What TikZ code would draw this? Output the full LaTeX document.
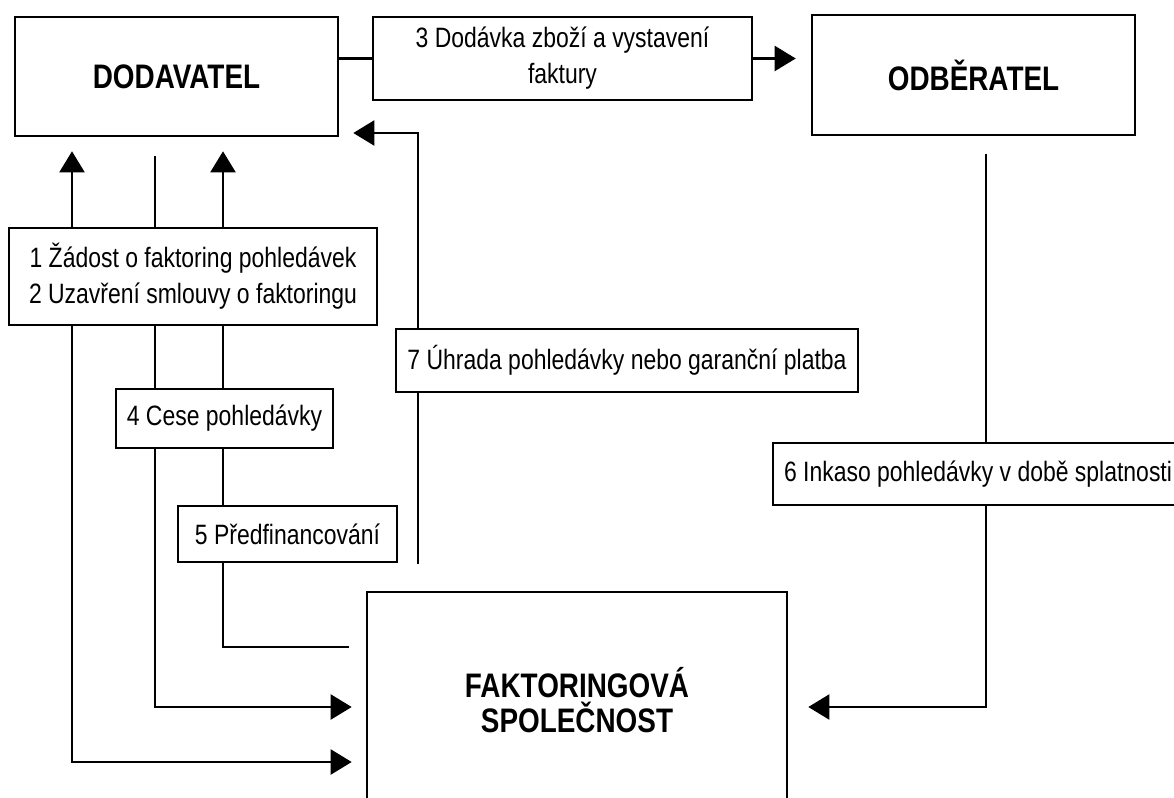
\documentclass[tikz,border=0pt]{standalone}
\usepackage{fontspec}
\setmainfont{Liberation Sans}[FakeStretch=0.82]
\usetikzlibrary{arrows.meta}
\tikzset{
  box/.style={draw, line width=2.6pt, inner sep=0pt, align=center, font=\fontsize{28}{36}\selectfont},
  title/.style={box, font=\fontsize{34}{35}\selectfont\bfseries},
  conn/.style={line width=2.2pt},
  arr/.style={conn, -{Triangle[length=21pt,width=25pt]}},
}
\begin{document}
\begin{tikzpicture}[x=1pt,y=-1pt]
\clip (0,0) rectangle (1174,797);
\fill[white] (0,0) rectangle (1174,797);
% columns and rows
\coordinate (c1) at (72,0);
\coordinate (c2) at (155,0);
\coordinate (c3) at (223,0);
\coordinate (c5) at (418,0);
\coordinate (c6) at (986,0);
\coordinate (r1) at (0,762);
\coordinate (r2) at (0,707);
\coordinate (r3) at (0,647);
\coordinate (r4) at (0,133);
% nodes
\node[title, minimum width=323pt, minimum height=119pt] (dod) at (176.5,76.5) {DODAVATEL};
\node[box, minimum width=379pt, minimum height=83pt] (b3) at (562.5,58.5) {3 Dodávka zboží a vystavení\\faktury};
\node[title, minimum width=323pt, minimum height=120pt] (odb) at (973.5,75) {ODBĚRATEL};
\node[box, minimum width=368pt, minimum height=97pt] (b1) at (193,276.5) {1 Žádost o faktoring pohledávek\\2 Uzavření smlouvy o faktoringu};
\node[box, minimum width=462pt, minimum height=63pt] (b7) at (627,360.5) {7 Úhrada pohledávky nebo garanční platba};
\node[box, minimum width=217pt, minimum height=59pt] (b4) at (224.5,418.5) {4 Cese pohledávky};
\node[box, minimum width=410pt, minimum height=62pt] (b6) at (978,474) {6 Inkaso pohledávky v době splatnosti};
\node[box, minimum width=219pt, minimum height=56pt] (b5) at (287.5,534) {5 Předfinancování};
\node[title, minimum width=420pt, minimum height=217pt] (fak) at (577,700.5) {FAKTORINGOVÁ\\SPOLEČNOST};
% connectors
\draw[conn] (b3.west -| dod.east) -- (b3.west);
\draw[arr, shorten >=15pt] (b3.east) -- (b3.east -| odb.west);
\draw[arr, shorten >=14pt] (b1.north -| c1) -- (dod.south -| c1);
\draw[conn, shorten >=19pt] (b1.north -| c2) -- (dod.south -| c2);
\draw[arr, shorten >=14pt] (b1.north -| c3) -- (dod.south -| c3);
\draw[arr, shorten >=14pt] (b1.south -| c1) |- (fak.west |- r1);
\draw[conn] (b1.south -| c2) -- (b4.north -| c2);
\draw[conn] (b1.south -| c3) -- (b4.north -| c3);
\draw[arr, shorten >=14pt] (b4.south -| c2) |- (fak.west |- r2);
\draw[conn] (b4.south -| c3) -- (b5.north -| c3);
\draw[conn, shorten >=17pt] (b5.south -| c3) |- (fak.west |- r3);
\draw[arr, shorten >=14pt] (b7.north -| c5) |- (dod.east |- r4);
\draw[conn, shorten >=27pt] (b7.south -| c5) -- (fak.north -| c5);
\draw[conn, shorten <=18pt] (odb.south -| c6) -- (b6.north -| c6);
\draw[arr, shorten >=20pt] (b6.south -| c6) |- (fak.east |- r2);
\end{tikzpicture}
\end{document}
